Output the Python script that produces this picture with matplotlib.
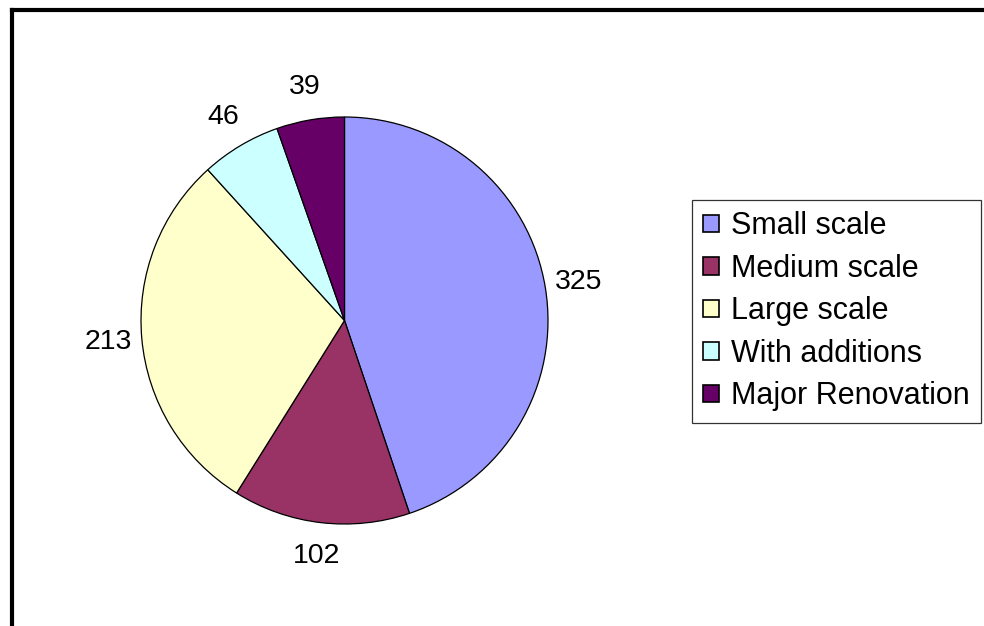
import matplotlib
matplotlib.use("Agg")
import matplotlib.pyplot as plt
from matplotlib.lines import Line2D

categories = ["Small scale", "Medium scale", "Large scale", "With additions", "Major Renovation"]
values = [325, 102, 213, 46, 39]
colors = ["#9999FF", "#993366", "#FFFFCC", "#CCFFFF", "#660066"]

W, H = 984, 626
fig = plt.figure(figsize=(W / 100, H / 100), dpi=100)
plt.rcParams['font.family'] = ['Liberation Sans', 'DejaVu Sans']

ax = fig.add_axes([0, 0, 1, 1])
ax.set_xlim(0, W)
ax.set_ylim(0, H)
ax.set_aspect('equal')
ax.axis('off')

cx, cy, r = 344.5, H - 320.5, 203.5
vals_iter = iter(values)
wedges, texts, autotexts = ax.pie(
    values, colors=colors, startangle=90, counterclock=False,
    center=(cx, cy), radius=r, frame=True,
    wedgeprops=dict(edgecolor='black', linewidth=0.9),
    autopct=lambda p: f"{next(vals_iter)}", pctdistance=1.165,
    textprops=dict(fontsize=20.5, color='black'))
ax.set_xlim(0, W)
ax.set_ylim(0, H)
ax.axis('off')

leg = fig.legend(wedges, categories, loc='upper left',
                 bbox_to_anchor=(692 / W, 1 - 200 / H), bbox_transform=fig.transFigure,
                 fontsize=22, frameon=True, fancybox=False, edgecolor='black',
                 handlelength=0.5, handleheight=0.5, handletextpad=0.42,
                 labelspacing=0.41, borderpad=0.37, borderaxespad=0)
leg.get_frame().set_linewidth(0.9)
for h in leg.legend_handles:
    h.set_edgecolor('black')
    h.set_linewidth(1.2)

# outer chart frame (only top and left edges visible)
fig.add_artist(Line2D([12 / W, 1.01], [1 - 10 / H, 1 - 10 / H], transform=fig.transFigure,
                      color='black', linewidth=3.0, solid_capstyle='projecting'))
fig.add_artist(Line2D([12 / W, 12 / W], [-0.01, 1 - 10 / H], transform=fig.transFigure,
                      color='black', linewidth=3.0, solid_capstyle='projecting'))

fig.savefig("out.png", dpi=100)
